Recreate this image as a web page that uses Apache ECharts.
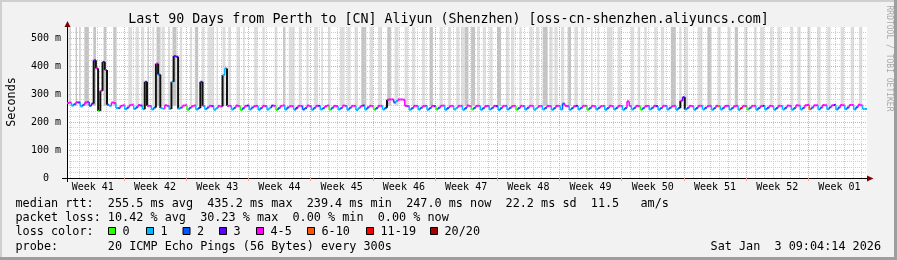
<!DOCTYPE html>
<html><head><meta charset="utf-8">
<script src="https://cdn.jsdelivr.net/npm/echarts@6/dist/echarts.min.js"></script>
<style>html,body{margin:0;padding:0;background:#f2f2f2}#c{width:897px;height:260px}</style>
</head><body><div id="c"></div><script>
// ---------- data ----------
const TITLE = 'Last 90 Days from Perth to [CN] Aliyun (Shenzhen) [oss-cn-shenzhen.aliyuncs.com]';
// time axis in days counted from Monday 00:00 of week 41
const T_START = 0.6, T_END = 90.6, STEP = 0.25;
const weekLabels = ['Week 41','Week 42','Week 43','Week 44','Week 45','Week 46','Week 47','Week 48','Week 49','Week 50','Week 51','Week 52','Week 01'];
const weekLabelDays = [3.5,10.5,17.5,24.5,31.5,38.5,45.5,52.5,59.5,66.5,73.5,80.5,87.5];
const weekBoundaryDays = [7,14,21,28,35,42,49,56,63,70,77,84];
const yLabels = ['0  ','100 m','200 m','300 m','400 m','500 m'];
const Y_MAX = 540;

// median rtt (ms), 6-hour steps
const medianPart1 = [
268,270,259,264, 271,270,256,262, 270,272,258,266, 421,392,240,312, 415,386,262,258,
270,268,250,250, 258,260,246,252, 260,262,247,253, 261,259,246,344, 258,258,245,252,
409,370,250,248, 260,258,247,344, 436,434,248,252, 259,260,244,251, 257,259,245,250,
344,258,246,252, 258,257,244,250, 258,256,368,392, 258,258,245,251, 259,257,243,250,
258,259,245,252, 257,258,244,250, 258,257,245,251, 259,258,243,250, 258,259,245,252,
257,257,244,251, 258,258,245,250, 259,257,244,251, 258,258,245,250, 257,259,244,251];
const medianPart2 = [
258,257,245,250, 259,258,244,251, 258,258,243,250, 257,259,245,252, 258,257,244,250,
258,258,245,251, 280,281,281,270, 275,281,281,280, 258,257,244,250, 258,258,245,251,
257,258,244,250, 258,257,245,251, 258,259,244,250, 257,258,245,251, 258,258,244,250,
259,257,245,251, 258,258,244,250, 257,258,245,251, 258,257,243,250, 258,258,245,251,
257,258,244,250, 258,257,245,251, 258,258,244,250, 257,258,245,251, 258,257,244,250,
258,258,245,266, 258,257,244,250, 257,258,245,251, 258,258,244,250, 258,257,245,251];
const medianPart3 = [
257,258,244,250, 258,257,245,251, 258,258,244,250, 274,258,245,251, 258,257,244,250,
257,258,245,251, 258,257,244,250, 258,258,245,251, 257,258,244,250, 276,289,245,251,
258,257,244,250, 258,258,245,251, 257,258,244,250, 258,257,245,251, 258,258,244,250,
257,258,244,250, 258,257,245,251, 258,258,244,250, 257,258,245,251, 258,257,244,250,
258,258,245,251, 259,258,244,250, 260,259,245,251, 260,261,246,252, 260,260,245,252,
261,260,246,253, 260,261,245,252, 261,260,246,252, 261,261,245,253, 262,260,247,247];
// loss colour class per step: 0=0,1=1,2=2,3=3,4=4-5,5=6-10,6=11-19,7=20/20
const lossPart1 = [
4,4,1,2, 4,3,1,2, 4,4,2,3, 3,4,0,4, 3,4,2,1, 4,4,1,2, 4,4,1,2, 4,4,1,2, 4,3,1,3, 4,4,1,2,
4,2,1,1, 4,4,1,1, 3,3,1,2, 4,4,0,2, 4,4,1,2, 3,4,1,2, 4,3,1,1, 4,4,1,1, 4,4,1,2, 4,4,0,2,
4,3,1,2, 4,4,1,2, 4,4,1,1, 3,4,0,2, 4,4,1,2, 4,4,1,3, 4,4,2,2, 4,4,1,2, 4,3,1,2, 4,4,0,2];
const lossPart2 = [
4,4,1,2, 4,4,1,2, 4,4,1,1, 4,3,1,2, 4,4,0,2, 4,4,1,2, 4,4,4,2, 1,4,4,4, 4,4,1,2, 4,4,1,2,
4,4,1,2, 4,3,0,2, 4,4,1,2, 4,4,1,1, 4,4,1,2, 4,4,0,2, 4,4,1,2, 4,4,1,2, 4,3,1,2, 4,4,1,2,
4,4,0,2, 4,4,1,2, 4,4,1,1, 4,4,1,2, 4,4,1,2, 4,4,1,2, 4,4,1,2, 4,3,1,2, 4,4,0,2, 4,4,1,2];
const lossPart3 = [
4,4,1,2, 4,4,1,2, 4,4,1,2, 4,4,1,2, 4,4,0,2, 4,4,1,2, 4,3,1,2, 4,4,1,2, 4,4,1,2, 4,3,1,2,
4,4,1,2, 4,4,1,2, 4,4,1,2, 4,5,1,2, 4,4,1,2, 4,4,1,6, 4,4,0,2, 4,4,1,2, 4,3,1,2, 4,4,1,2,
4,4,1,2, 4,4,1,2, 4,4,1,2, 4,4,5,2, 4,4,1,2, 4,4,1,2, 4,3,1,2, 4,4,1,2, 4,4,1,2, 4,4,1,1];

// smoke (outlier) bands reaching the top of the graph: start day, end day, shade (0 light, 1 dark)
const smokeStart = [0.75,1.57,1.95,2.55,3.56,4.72,5.81,7.49,8.31,8.99,9.66,10.19,10.67,11.24,11.99,12.47,13.30,14.42,14.98,15.73,
16.40,17.42,18.09,18.73,19.66,20.41,21.65,22.58,23.97,24.91,25.54,26.67,27.53,28.39,29.21,29.96,31.27,32.13,32.96,33.71,
34.64,35.58,36.63,37.45,38.58,39.40,40.52,41.39,42.51,43.45,44.38,44.94,45.31,46.06,46.73,47.37,48.12,48.98,49.99,50.55,
51.49,52.61,53.36,54.11,54.86,55.42,56.17,56.92,57.67,58.42,59.54,60.29,61.34,62.54,64.04,64.79,65.53,66.66,67.41,68.53,
69.47,70.03,71.53,72.65,73.77,74.90,75.72,76.77,77.89,78.57,79.69,80.52,82.01,82.76,83.89,85.01,86.13,87.63,88.76,89.69];
const smokeEnd = [1.05,1.72,2.17,3.07,3.86,5.02,6.18,7.94,8.69,9.29,9.81,10.41,11.12,11.61,12.21,12.92,13.56,14.68,15.36,16.03,
17.15,17.60,18.43,19.03,20.04,20.60,22.02,22.85,24.27,25.17,26.22,26.97,27.79,28.84,29.40,30.26,31.84,32.51,33.33,34.27,
35.02,36.03,37.08,37.90,38.95,39.78,40.90,41.76,42.88,43.82,44.76,45.25,45.76,46.51,47.00,47.74,48.49,49.43,50.37,50.93,
51.75,52.99,53.74,54.67,55.24,55.80,56.55,57.30,58.04,58.79,59.73,60.48,61.98,62.91,64.41,65.09,65.83,66.96,67.78,69.09,
69.73,70.48,72.09,73.10,74.15,75.27,76.10,77.15,78.19,79.02,79.99,80.89,82.31,83.14,84.26,85.39,86.51,88.01,89.13,90.07];
const smokeShade = [0,1,0,1,1,1,1,0,0,0,1,0,1,0,0,1,0,0,1,0,
0,0,0,0,0,0,0,0,0,1,0,0,0,0,0,0,0,0,0,1,
0,0,1,0,0,0,0,1,0,0,0,0,1,1,0,0,0,1,0,0,
0,0,0,1,0,0,0,1,0,0,0,0,0,0,0,0,0,0,0,1,
0,0,0,1,0,0,1,0,0,0,0,0,0,0,0,0,0,0,0,0];

const lossColors = ['#26ff00','#00b8ff','#0059ff','#5e00ff','#ff00ff','#ff5500','#ff0000','#a00000'];
const lossLegend = ['0','1','2','3','4-5','6-10','11-19','20/20'];

// ---------- build ----------
const medianValues = medianPart1.concat(medianPart2, medianPart3);
const medianLoss = lossPart1.concat(lossPart2, lossPart3);
const medianData = medianValues.map((v, i) => [T_START + i * STEP, v, medianLoss[i], i > 0 ? medianValues[i - 1] : v]);
const smokeData = smokeStart.map((s, i) => [s, smokeEnd[i], smokeShade[i]]);
const dayLines = [];
for (let d = 1; d <= 90; d++) if (d % 7 !== 0) dayLines.push(d);

const MONO = "'DejaVu Sans Mono', monospace";
const GRID_GRAY = '#cfcfcf', GRID_RED = '#f5a0a0';

const legendGraphics = [];
const boxX = [108, 146, 182.5, 219, 256, 307, 366, 430];
lossLegend.forEach((lab, k) => {
  legendGraphics.push({type:'rect', shape:{x:boxX[k]+0.5, y:227.5, width:7, height:7},
    style:{fill:lossColors[k], stroke:'#000', lineWidth:1}});
  legendGraphics.push({type:'text', x:boxX[k]+14.5, y:232, style:{text:lab, font:'11.8px ' + MONO, fill:'#000', align:'left', verticalAlign:'middle'}});
});

const chart = echarts.init(document.getElementById('c'), null, {renderer:'canvas'});
chart.setOption({
  animation:false,
  backgroundColor:'#f2f2f2',
  grid:{left:67, right:30, top:27, bottom:82, show:true, backgroundColor:'#ffffff', borderWidth:0},
  xAxis:{type:'value', min:T_START, max:T_END, z:3,
    splitLine:{show:false},
    axisLine:{show:true, onZero:false, lineStyle:{color:'#000', width:1}},
    axisTick:{show:true, customValues:weekBoundaryDays, length:3, lineStyle:{color:GRID_RED}},
    axisLabel:{customValues:weekLabelDays, formatter:v => weekLabels[weekLabelDays.indexOf(v)] || '',
      fontFamily:MONO, fontSize:10, color:'#000', margin:4}},
  yAxis:[
    {type:'value', min:0, max:Y_MAX, interval:20, position:'left', z:3,
      axisLine:{show:false}, axisTick:{show:false}, axisLabel:{show:false},
      splitLine:{show:true, showMinLine:false, showMaxLine:false, lineStyle:{color:GRID_GRAY, type:[1,1], width:1}}},
    {type:'value', min:0, max:Y_MAX, interval:100, position:'left', z:4,
      axisLine:{show:true, lineStyle:{color:'#000', width:1}}, axisTick:{show:false},
      axisLabel:{formatter:v => (v % 100 === 0 && v/100 < yLabels.length) ? yLabels[v/100] : '', fontFamily:MONO, fontSize:10, color:'#000', margin:6},
      splitLine:{show:true, showMinLine:false, showMaxLine:false, lineStyle:{color:GRID_RED, type:[1,1], width:1}}}
  ],
  series:[
    {type:'custom', name:'smoke', z:1, xAxisIndex:0, yAxisIndex:0, clip:true,
      data:smokeData, encode:{x:[0,1]},
      renderItem:(params, api) => {
        const p0 = api.coord([api.value(0), Y_MAX]);
        const p1 = api.coord([api.value(1), 258]);
        return {type:'rect', shape:{x:p0[0], y:p0[1], width:Math.max(1, p1[0]-p0[0]), height:p1[1]-p0[1]},
          style:{fill: api.value(2) ? '#c4c4c4' : '#dedede'}};
      },
      markLine:{silent:true, z:2, animation:false, symbol:['none','none'], label:{show:false}, emphasis:{disabled:true},
        data: dayLines.map(d => ({xAxis:d, lineStyle:{color:GRID_GRAY, type:[1,1], width:1}}))
          .concat(weekBoundaryDays.map(d => ({xAxis:d, lineStyle:{color:GRID_RED, type:[1,1], width:1}})))}
    },
    {type:'custom', name:'median', z:5, xAxisIndex:0, yAxisIndex:0, clip:true,
      data:medianData, encode:{x:0, y:1},
      renderItem:(params, api) => {
        const t = api.value(0), v = api.value(1), l = api.value(2), pv = api.value(3);
        const a = api.coord([t, v]), b = api.coord([t + STEP, v]), p = api.coord([t, pv]);
        const col = lossColors[l];
        const big = Math.abs(v - pv) > 25;
        return {type:'group', children:[
          {type:'line', shape:{x1:a[0], y1:p[1], x2:a[0], y2:a[1]}, style:{stroke: big ? '#111' : col, lineWidth: big ? 2 : 1.5}},
          {type:'line', shape:{x1:a[0], y1:a[1], x2:b[0], y2:b[1]}, style:{stroke: col, lineWidth: 2}}
        ]};
      }
    }
  ],
  graphic:[
    {type:'rect', shape:{x:0, y:0, width:897, height:2}, style:{fill:'#cfcfcf'}, silent:true},
    {type:'rect', shape:{x:0, y:0, width:2, height:260}, style:{fill:'#cfcfcf'}, silent:true},
    {type:'rect', shape:{x:0, y:257, width:897, height:3}, style:{fill:'#9e9e9e'}, silent:true},
    {type:'rect', shape:{x:894, y:0, width:3, height:260}, style:{fill:'#9e9e9e'}, silent:true},
    {type:'text', x:448.5, y:19.5, style:{text:TITLE, font:'13.3px ' + MONO, fill:'#000', align:'center', verticalAlign:'middle'}},
    {type:'text', x:11.5, y:102, rotation:Math.PI/2, style:{text:'Seconds', font:'11.8px ' + MONO, fill:'#000', align:'center', verticalAlign:'middle'}},
    {type:'text', x:889, y:58.5, rotation:-Math.PI/2, style:{text:'RRDTOOL / TOBI OETIKER', font:'8px ' + MONO, fill:'#aaaaaa', align:'center', verticalAlign:'middle'}},
    {type:'line', shape:{x1:62, y1:178.5, x2:67, y2:178.5}, style:{stroke:'#000', lineWidth:1}},
    {type:'line', shape:{x1:67.5, y1:178, x2:67.5, y2:182}, style:{stroke:'#000', lineWidth:1}},
    {type:'polygon', shape:{points:[[867,175.5],[873.5,178.5],[867,181.5]]}, style:{fill:'#800000'}},
    {type:'polygon', shape:{points:[[64.5,27],[67.5,21],[70.5,27]]}, style:{fill:'#800000'}},
    {type:'text', x:15.5, y:204, style:{text:'median rtt:  255.5 ms avg  435.2 ms max  239.4 ms min  247.0 ms now  22.2 ms sd  11.5   am/s', font:'11.8px ' + MONO, fill:'#000', align:'left', verticalAlign:'middle'}},
    {type:'text', x:15.5, y:218, style:{text:'packet loss: 10.42 % avg  30.23 % max  0.00 % min  0.00 % now', font:'11.8px ' + MONO, fill:'#000', align:'left', verticalAlign:'middle'}},
    {type:'text', x:15.5, y:232, style:{text:'loss color:', font:'11.8px ' + MONO, fill:'#000', align:'left', verticalAlign:'middle'}},
    {type:'text', x:15.5, y:246.5, style:{text:'probe:       20 ICMP Echo Pings (56 Bytes) every 300s', font:'11.8px ' + MONO, fill:'#000', align:'left', verticalAlign:'middle'}},
    {type:'text', x:881, y:246.5, style:{text:'Sat Jan  3 09:04:14 2026', font:'11.8px ' + MONO, fill:'#000', align:'right', verticalAlign:'middle'}}
  ].concat(legendGraphics)
});
</script></body></html>
